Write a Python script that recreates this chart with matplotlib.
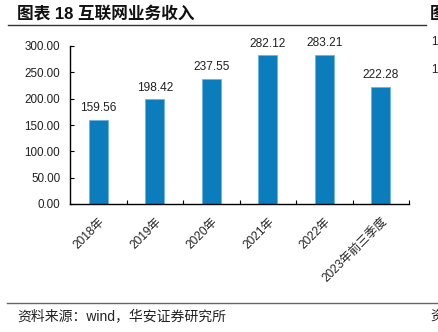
import matplotlib
matplotlib.use("Agg")
import matplotlib.pyplot as plt
from matplotlib.lines import Line2D

plt.rcParams['font.family'] = ['Liberation Sans', 'Noto Sans CJK SC']

categories = ["2018年", "2019年", "2020年", "2021年", "2022年", "2023年前三季度"]
revenue = [159.56, 198.42, 237.55, 282.12, 283.21, 222.28]
yticks = [0, 50, 100, 150, 200, 250, 300]

title = "图表 18 互联网业务收入"
source = "资料来源：wind，华安证券研究所"
bar_color = "#0B7DBC"

fig = plt.figure(figsize=(4.38, 3.32), dpi=100)
ax = fig.add_axes([70 / 438, 1 - 204 / 332, 339 / 438, 158 / 332])

x = list(range(len(categories)))
ax.bar(x, revenue, width=0.34, color=bar_color, edgecolor="#6FB3DD", linewidth=0.6)
for xi, v in zip(x, revenue):
    ax.annotate(f"{v:.2f}", (xi, v), xytext=(0, 4), textcoords="offset points",
                ha="center", va="bottom", fontsize=8.6, color="#222222")

ax.set_xlim(-0.5, len(categories) - 0.5)
ax.set_ylim(0, 300)
ax.set_yticks(yticks)
ax.set_yticklabels([f"{t:.2f}" for t in yticks], fontsize=8.4, color="#222222")
ax.tick_params(axis="y", direction="in", length=3, width=0.8, pad=7)

# x ticks sit between bars; labels are placed at bar centres
ax.set_xticks([i + 0.5 for i in x[:-1]] + [len(categories) - 0.5])
ax.set_xticklabels([])
ax.tick_params(axis="x", direction="in", length=3, width=0.8)
for xi, lab in zip(x, categories):
    ax.text(xi + 0.08, -30, lab, rotation=45, rotation_mode="anchor",
            ha="right", va="center", fontsize=8.6, color="#222222",
            transform=ax.transData, clip_on=False)

for s in ["top", "right"]:
    ax.spines[s].set_visible(False)
for s in ["left", "bottom"]:
    ax.spines[s].set_linewidth(1.0)
    ax.spines[s].set_color("black")

# header and footer
fig.text(17 / 438, 1 - 14 / 332, title, fontsize=12, fontweight="bold",
         va="center", ha="left", color="#111111")
fig.add_artist(Line2D([8 / 438, 426 / 438], [1 - 25 / 332, 1 - 25 / 332],
                      color="#333333", linewidth=1.0, transform=fig.transFigure))
fig.add_artist(Line2D([7 / 438, 1.0], [1 - 303 / 332, 1 - 303 / 332],
                      color="#666666", linewidth=1.0, transform=fig.transFigure))
fig.text(17 / 438, 1 - 316 / 332, source, fontsize=10, va="center", ha="left", color="#222222")

# neighbouring panel edge
fig.text(430 / 438, 1 - 14 / 332, "图", fontsize=12, fontweight="bold", va="center", ha="left", color="#111111")
fig.text(431 / 438, 1 - 42 / 332, "1", fontsize=8.4, va="center", ha="left", color="#222222")
fig.text(431 / 438, 1 - 70 / 332, "1", fontsize=8.4, va="center", ha="left", color="#222222")
fig.text(430 / 438, 1 - 316 / 332, "资", fontsize=10, va="center", ha="left", color="#222222")

fig.savefig("out.png", dpi=100)
